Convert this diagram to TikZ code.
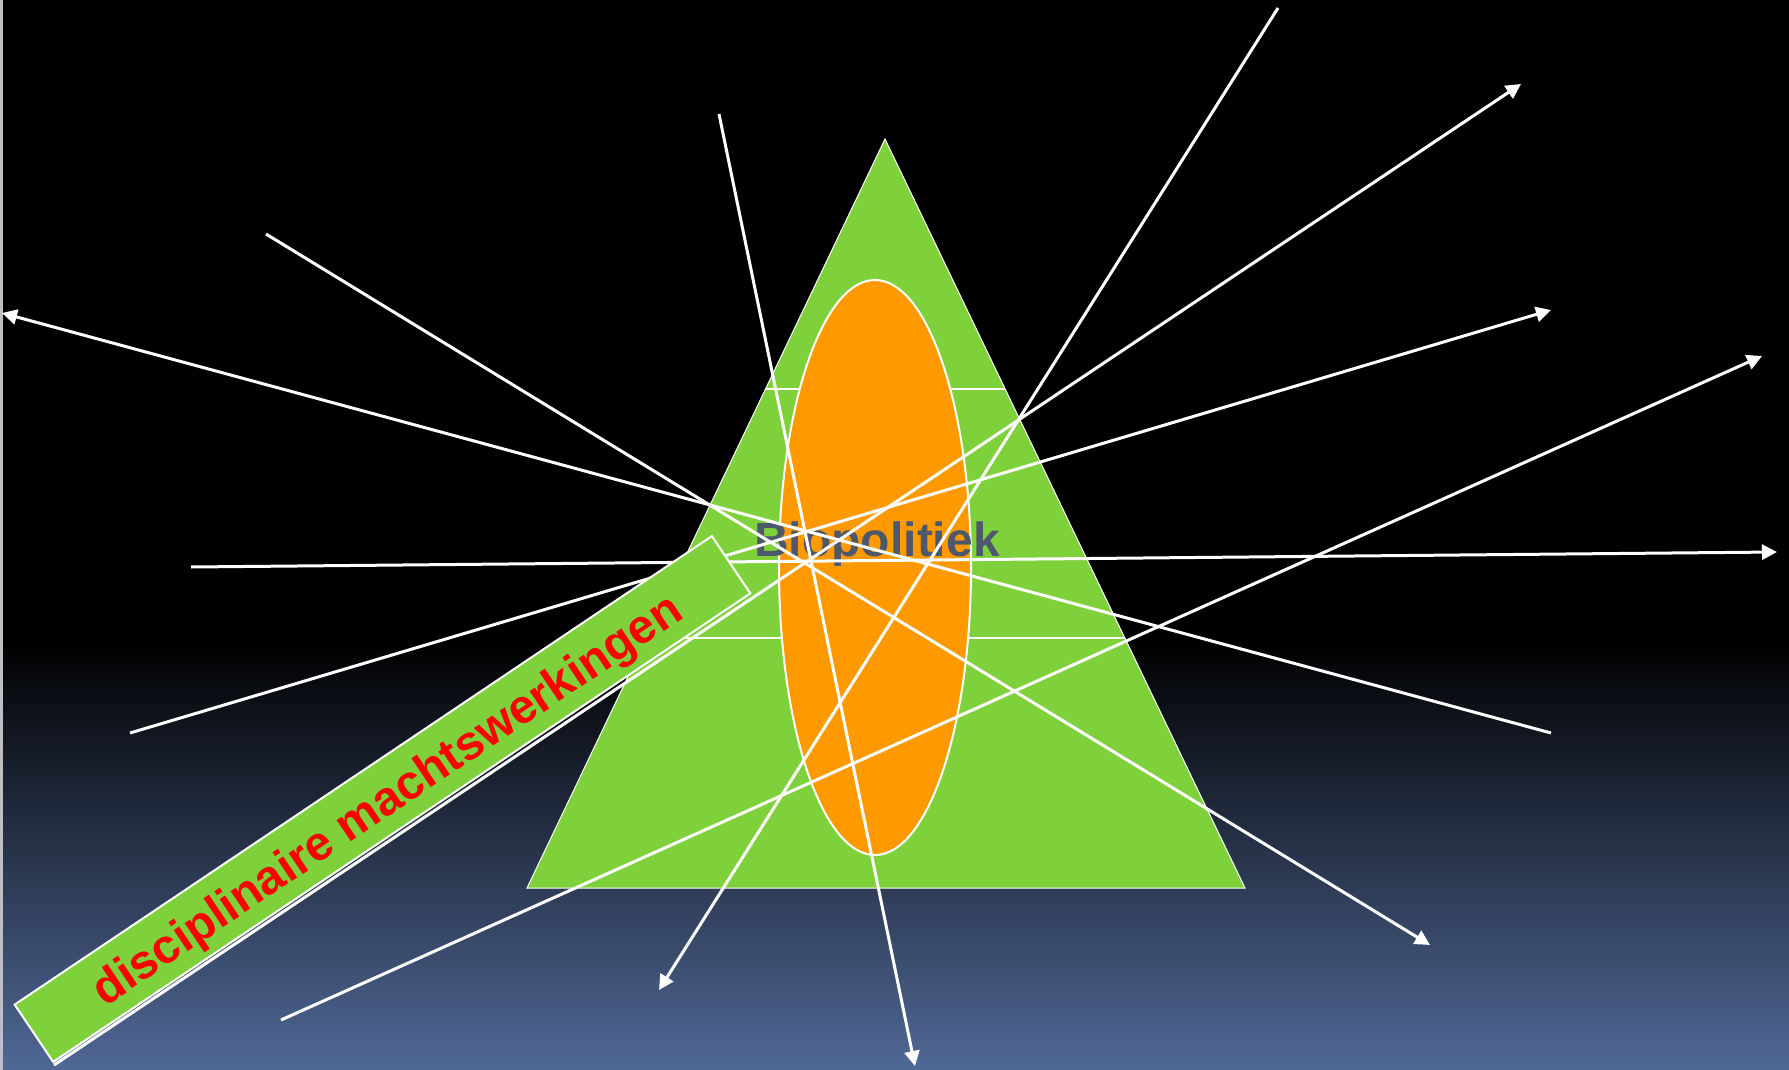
\documentclass[tikz,border=0pt]{standalone}
\usepackage{fontspec}
\setmainfont{Liberation Sans}
\usetikzlibrary{arrows.meta,calc}
\definecolor{tgreen}{RGB}{127,209,59}
\definecolor{torange}{RGB}{255,153,0}
\definecolor{tgray}{RGB}{78,88,108}
\definecolor{bgblue}{RGB}{80,104,150}
\definecolor{edgegray}{RGB}{190,190,195}
\begin{document}
\begin{tikzpicture}[x=1pt,y=-1pt,
  ray/.style={draw=white,line width=3pt},
  rayarrow/.style={ray,-{Triangle[length=15pt,width=15pt]}},
  tier/.style={draw=white,line width=1.5pt}]
\useasboundingbox (0,0) rectangle (1789,1070);
% background
\fill[black] (0,0) rectangle (1789,640);
\shade[top color=black,bottom color=bgblue] (0,639) rectangle (1789,1070);
\fill[edgegray] (0,0) rectangle (2.5,1070);
% pyramid
\coordinate (apex) at (885,139);
\coordinate (bl) at (527,888);
\coordinate (br) at (1245,888);
\filldraw[fill=tgreen,draw=white,line width=1pt] (apex) -- (bl) -- (br) -- cycle;
\draw[tier] ($(apex)!0.3338!(bl)$) -- ($(apex)!0.3338!(br)$);
\draw[tier] ($(apex)!0.6662!(bl)$) -- ($(apex)!0.6662!(br)$);
% ellipse
\coordinate (ec) at (875,567.5);
\filldraw[fill=torange,draw=white,line width=2pt] (ec) ellipse [x radius=96, y radius=287.5];
\node[text=tgray,font=\bfseries\fontsize{48}{48}\selectfont,anchor=base,inner sep=0pt] (bio) at (877,556) {Biopolitiek};
% rays
\coordinate (r1s) at (1551,733); \coordinate (r1e) at (2,313);
\coordinate (r2s) at (266,234);  \coordinate (r2e) at (1430,945);
\coordinate (r3s) at (719,114);  \coordinate (r3e) at (915,1066);
\coordinate (r4s) at (1278,8);   \coordinate (r4e) at (659,990);
\coordinate (r5s) at (191,567);  \coordinate (r5e) at (1777,552);
\coordinate (r6s) at (130,733);  \coordinate (r6e) at (1551,310);
\coordinate (r7s) at (281,1020); \coordinate (r7e) at (1762,356);
\coordinate (r8s) at (54,1065);  \coordinate (r8e) at (1521,84);
\draw[rayarrow] (r1s) -- (r1e);
\draw[rayarrow] (r2s) -- (r2e);
\draw[rayarrow] (r3s) -- (r3e);
\draw[rayarrow] (r4s) -- (r4e);
\draw[rayarrow] (r5s) -- (r5e);
\draw[rayarrow] (r6s) -- (r6e);
\draw[rayarrow] (r7s) -- (r7e);
% box
\node[draw=white,line width=2pt,fill=tgreen,minimum width=840pt,minimum height=69pt,
  inner sep=0pt,rotate=33.9] (box) at (382.5,799) {};
\node[rotate=33.9,text=red,inner sep=0pt,font=\bfseries\fontsize{48}{48}\selectfont]
  (lbl) at ($(box.center)+(6,3)$) {disciplinaire machtswerkingen};
\draw[rayarrow] (r8s) -- (r8e);
\end{tikzpicture}
\end{document}
